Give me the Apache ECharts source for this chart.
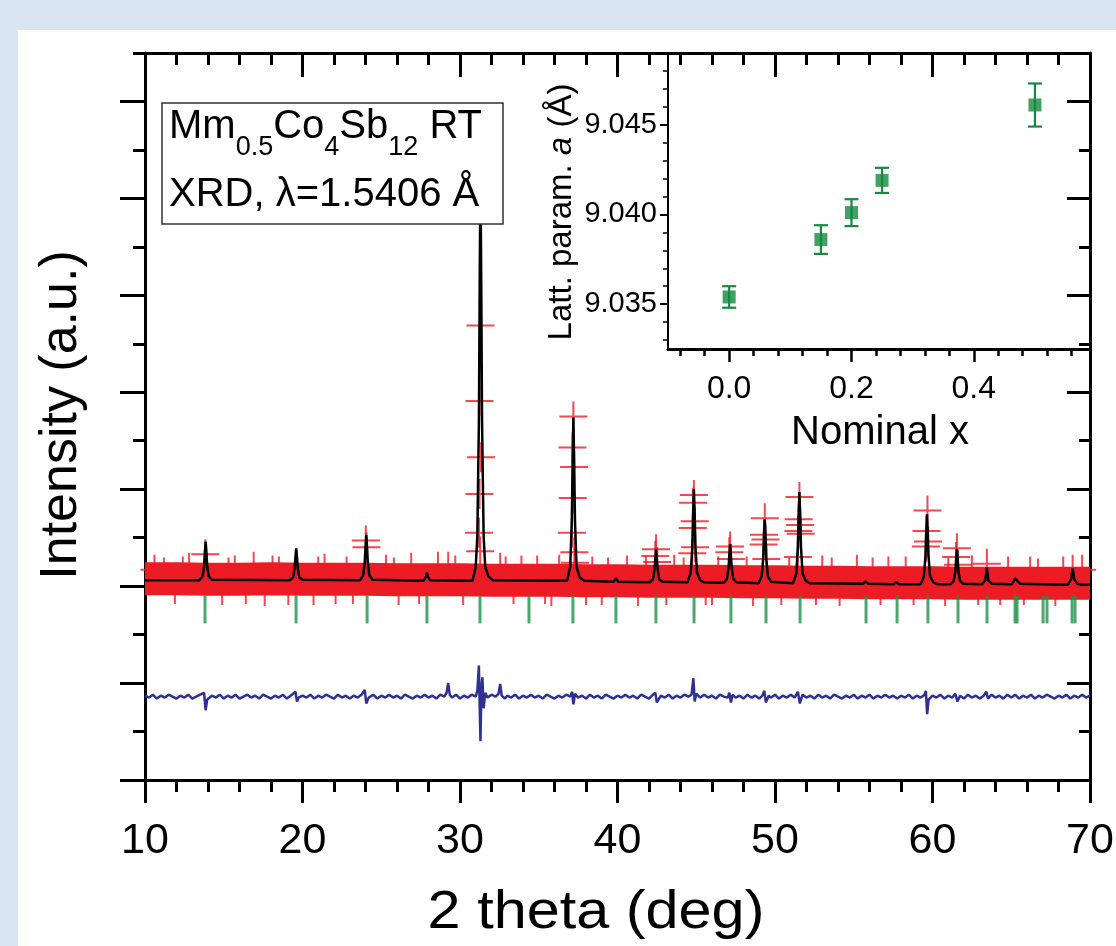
<!DOCTYPE html>
<html>
<head>
<meta charset="utf-8">
<title>Mm0.5Co4Sb12 XRD</title>
<script src="https://cdn.jsdelivr.net/npm/echarts@6/dist/echarts.min.js"></script>
<style>
  html, body { margin: 0; padding: 0; background: #d9e5f0; }
  #chart { width: 1116px; height: 946px; }
</style>
</head>
<body>
<div id="chart"></div>
<script>
// ---- XRD pattern (2 theta in deg, intensity in arbitrary units) ----
const calcCurve = [
  [10, 2.06],
  [13.45, 2.06], [13.65, 2.10], [13.75, 2.20], [13.8, 2.35], [13.85, 2.46], [13.9, 2.35], [13.95, 2.20], [14.05, 2.10], [14.25, 2.065],
  [19.2, 2.06], [19.4, 2.09], [19.5, 2.18], [19.55, 2.30], [19.6, 2.39], [19.65, 2.30], [19.7, 2.18], [19.8, 2.09], [20.0, 2.065],
  [23.65, 2.06], [23.85, 2.11], [23.95, 2.24], [24.0, 2.40], [24.05, 2.53], [24.1, 2.40], [24.15, 2.24], [24.25, 2.11], [24.45, 2.065],
  [27.7, 2.055], [27.85, 2.10], [27.9, 2.14], [27.95, 2.10], [28.1, 2.06],
  [30.8, 2.055], [31.0, 2.20], [31.1, 2.52], [31.2, 3.70], [31.25, 5.1], [31.3, 6.3], [31.35, 5.1], [31.4, 3.70], [31.5, 2.52], [31.6, 2.20], [31.8, 2.10], [32.1, 2.06],
  [36.8, 2.055], [37.0, 2.20], [37.1, 2.68], [37.15, 3.28], [37.2, 3.74], [37.25, 3.28], [37.3, 2.68], [37.4, 2.20], [37.6, 2.09], [37.9, 2.055],
  [39.75, 2.045], [39.9, 2.08], [40.05, 2.045],
  [42.05, 2.04], [42.25, 2.07], [42.35, 2.17], [42.4, 2.28], [42.45, 2.38], [42.5, 2.28], [42.55, 2.17], [42.65, 2.07], [42.85, 2.045],
  [44.45, 2.04], [44.65, 2.14], [44.75, 2.40], [44.8, 2.75], [44.85, 3.0], [44.9, 2.75], [44.95, 2.40], [45.05, 2.14], [45.25, 2.06], [45.5, 2.04],
  [46.75, 2.035], [46.95, 2.075], [47.05, 2.19], [47.1, 2.32], [47.15, 2.43], [47.2, 2.32], [47.25, 2.19], [47.35, 2.075], [47.55, 2.04],
  [48.95, 2.03], [49.15, 2.10], [49.25, 2.28], [49.3, 2.51], [49.35, 2.69], [49.4, 2.51], [49.45, 2.28], [49.55, 2.10], [49.75, 2.045],
  [51.15, 2.03], [51.35, 2.13], [51.45, 2.40], [51.5, 2.73], [51.55, 2.97], [51.6, 2.73], [51.65, 2.40], [51.75, 2.13], [51.95, 2.055], [52.2, 2.03],
  [55.6, 2.025], [55.75, 2.05], [55.9, 2.025],
  [57.55, 2.02], [57.7, 2.045], [57.85, 2.02],
  [59.25, 2.02], [59.45, 2.10], [59.55, 2.30], [59.6, 2.55], [59.65, 2.74], [59.7, 2.55], [59.75, 2.30], [59.85, 2.10], [60.05, 2.04], [60.3, 2.02],
  [61.15, 2.02], [61.35, 2.055], [61.45, 2.15], [61.5, 2.28], [61.55, 2.38], [61.6, 2.28], [61.65, 2.15], [61.75, 2.055], [61.95, 2.025],
  [63.15, 2.02], [63.35, 2.06], [63.4, 2.12], [63.45, 2.19], [63.5, 2.12], [63.55, 2.06], [63.75, 2.025],
  [65.05, 2.02], [65.25, 2.08], [65.3, 2.10], [65.35, 2.08], [65.55, 2.025],
  [68.6, 2.015], [68.8, 2.07], [68.85, 2.13], [68.9, 2.18], [68.95, 2.13], [69.0, 2.07], [69.2, 2.025], [69.4, 2.015],
  [70, 2.015]
];

// observed background level (dense measured points merge into a band)
const obsBackground = [
  [10, 2.075], [12, 2.075], [14, 2.07], [16, 2.07], [18, 2.075], [20, 2.07], [22, 2.07], [24, 2.07],
  [26, 2.065], [28, 2.065], [30, 2.065], [32, 2.06], [34, 2.06], [36, 2.06], [38, 2.055], [40, 2.055],
  [42, 2.05], [44, 2.05], [46, 2.05], [48, 2.045], [50, 2.045], [52, 2.04], [54, 2.04], [56, 2.035],
  [58, 2.035], [60, 2.035], [62, 2.03], [64, 2.03], [66, 2.03], [68, 2.03], [70, 2.03]
];

// observed points on the reflections
const obsPeaks = [
  [13.83, 2.33], [19.6, 2.2], [24.02, 2.47], [24.06, 2.40], [29.25, 2.2], [32.55, 2.19],
  [31.3, 4.69], [31.24, 3.91], [31.34, 3.33], [31.24, 2.95], [31.21, 2.55], [31.28, 2.36],
  [37.2, 3.75], [37.14, 3.43], [37.24, 3.23], [37.16, 2.91], [37.1, 2.55], [37.26, 2.35], [37.3, 2.24],
  [42.45, 2.38], [42.4, 2.31], [42.52, 2.25],
  [44.85, 2.94], [44.8, 2.86], [44.9, 2.67], [44.78, 2.60], [44.93, 2.40], [44.75, 2.34],
  [47.15, 2.41], [47.1, 2.35], [47.2, 2.28],
  [49.35, 2.70], [49.3, 2.53], [49.4, 2.48], [49.28, 2.43], [49.45, 2.28],
  [51.55, 2.92], [51.5, 2.69], [51.6, 2.63], [51.48, 2.57], [51.63, 2.54], [51.45, 2.30],
  [59.68, 2.78], [59.62, 2.57], [59.72, 2.46], [59.58, 2.41],
  [61.55, 2.39], [61.5, 2.30], [61.62, 2.22],
  [63.45, 2.23], [68.9, 2.17]
];

// scattered observed points off the background level
const obsScatter = [
  [10.6, 2.17], [11.2, 2.14], [11.9, 1.97], [12.4, 2.15], [12.8, 2.19], [14.9, 1.96], [15.3, 2.14],
  [15.7, 2.16], [16.4, 1.97], [16.9, 2.2], [17.6, 1.95], [18.1, 2.16], [18.5, 2.15], [19.1, 1.96],
  [20.7, 1.96], [21.0, 2.15], [21.4, 2.18], [22.1, 1.97], [22.8, 2.15], [23.2, 1.97], [25.3, 2.17],
  [25.8, 2.14], [26.1, 1.96], [26.9, 2.19], [27.4, 1.97], [28.6, 2.2], [29.7, 2.16], [30.2, 1.96],
  [32.9, 2.15], [33.4, 1.97], [33.9, 2.16], [34.9, 2.16], [35.4, 1.97], [35.8, 1.95], [36.3, 2.17],
  [38.0, 1.96], [38.4, 2.15], [39.0, 1.96], [39.4, 2.14], [40.6, 2.16], [41.3, 1.95], [41.8, 2.15],
  [43.1, 1.96], [43.6, 2.17], [44.2, 2.14], [45.6, 1.96], [46.0, 1.96], [46.4, 2.15], [48.2, 2.15],
  [48.6, 1.95], [50.4, 1.96], [50.9, 2.14], [52.6, 1.96], [53.0, 2.16], [53.6, 2.14], [54.1, 1.95],
  [55.2, 2.17], [56.2, 2.14], [56.7, 1.96], [57.2, 2.15], [58.3, 2.15], [58.8, 1.96], [60.8, 1.95],
  [61.0, 2.14], [62.5, 2.16], [62.9, 1.96], [64.3, 1.96], [64.8, 2.15], [65.8, 1.96], [66.2, 2.15],
  [66.7, 2.13], [67.8, 1.95], [68.3, 2.15], [69.5, 2.17]
];

// observed minus calculated (offset)
const diffCurve = [
  [10, 0.87], [10.25, 0.85], [10.5, 0.88], [10.75, 0.84], [11, 0.87], [11.25, 0.85], [11.5, 0.88], [11.75, 0.86],
  [12, 0.84], [12.25, 0.87], [12.5, 0.85], [12.75, 0.88], [13, 0.84], [13.25, 0.86], [13.5, 0.88], [13.75, 0.90],
  [13.85, 0.72], [13.95, 0.83], [14.25, 0.87], [14.5, 0.85], [14.75, 0.88], [15, 0.84], [15.25, 0.87], [15.5, 0.85],
  [15.75, 0.88], [16, 0.84], [16.25, 0.86], [16.5, 0.88], [16.75, 0.85], [17, 0.87], [17.25, 0.84], [17.5, 0.88],
  [17.75, 0.86], [18, 0.84], [18.25, 0.87], [18.5, 0.85], [18.75, 0.88], [19, 0.84], [19.25, 0.87], [19.55, 0.91],
  [19.65, 0.81], [19.75, 0.85], [20, 0.87], [20.25, 0.85], [20.5, 0.88], [20.75, 0.84], [21, 0.87], [21.25, 0.85],
  [21.5, 0.88], [21.75, 0.86], [22, 0.84], [22.25, 0.88], [22.5, 0.85], [22.75, 0.87], [23, 0.84], [23.25, 0.87],
  [23.5, 0.85], [23.75, 0.88], [23.95, 0.93], [24.05, 0.79], [24.2, 0.85], [24.5, 0.88], [24.75, 0.84], [25, 0.87],
  [25.25, 0.85], [25.5, 0.88], [25.75, 0.85], [26, 0.87], [26.25, 0.84], [26.5, 0.88], [26.75, 0.86], [27, 0.84],
  [27.25, 0.87], [27.5, 0.85], [27.75, 0.88], [28, 0.85], [28.25, 0.87], [28.5, 0.84], [28.75, 0.88], [29, 0.86],
  [29.15, 0.90], [29.25, 1.00], [29.35, 0.88], [29.5, 0.85], [29.75, 0.88], [30, 0.84], [30.25, 0.87], [30.5, 0.85],
  [30.75, 0.88], [31, 0.86], [31.1, 0.92], [31.2, 1.18], [31.25, 0.75], [31.3, 0.40], [31.36, 0.95], [31.42, 1.06],
  [31.5, 0.74], [31.6, 0.90], [31.75, 0.85], [32, 0.88], [32.25, 0.86], [32.45, 0.89], [32.55, 0.99], [32.65, 0.87],
  [32.85, 0.84], [33, 0.87], [33.25, 0.85], [33.5, 0.88], [33.75, 0.84], [34, 0.87], [34.25, 0.85], [34.5, 0.88],
  [34.75, 0.85], [35, 0.87], [35.25, 0.84], [35.5, 0.88], [35.75, 0.86], [36, 0.84], [36.25, 0.87], [36.5, 0.85],
  [36.75, 0.88], [37, 0.86], [37.12, 0.91], [37.2, 0.78], [37.3, 0.89], [37.5, 0.85], [37.75, 0.87], [38, 0.84],
  [38.25, 0.88], [38.5, 0.85], [38.75, 0.87], [39, 0.84], [39.25, 0.88], [39.5, 0.86], [39.75, 0.84], [40, 0.87],
  [40.25, 0.85], [40.5, 0.88], [40.75, 0.85], [41, 0.87], [41.25, 0.84], [41.5, 0.88], [41.75, 0.86], [42, 0.84],
  [42.25, 0.88], [42.4, 0.90], [42.5, 0.80], [42.75, 0.87], [43, 0.85], [43.25, 0.88], [43.5, 0.84], [43.75, 0.87],
  [44, 0.85], [44.25, 0.88], [44.5, 0.86], [44.7, 0.88], [44.82, 1.05], [44.9, 0.81], [45, 0.89], [45.25, 0.85],
  [45.5, 0.88], [45.75, 0.85], [46, 0.87], [46.25, 0.84], [46.5, 0.88], [46.75, 0.86], [47, 0.85], [47.1, 0.90],
  [47.2, 0.80], [47.3, 0.88], [47.5, 0.85], [47.75, 0.87], [48, 0.84], [48.25, 0.88], [48.5, 0.85], [48.75, 0.87],
  [49, 0.84], [49.2, 0.87], [49.32, 0.92], [49.42, 0.80], [49.6, 0.87], [49.75, 0.85], [50, 0.88], [50.25, 0.84],
  [50.5, 0.87], [50.75, 0.85], [51, 0.88], [51.25, 0.85], [51.45, 0.91], [51.58, 0.79], [51.75, 0.88], [52, 0.85],
  [52.25, 0.87], [52.5, 0.84], [52.75, 0.88], [53, 0.85], [53.25, 0.87], [53.5, 0.84], [53.75, 0.88], [54, 0.86],
  [54.25, 0.84], [54.5, 0.87], [54.75, 0.85], [55, 0.88], [55.25, 0.84], [55.5, 0.87], [55.75, 0.85], [56, 0.88],
  [56.25, 0.84], [56.5, 0.87], [56.75, 0.85], [57, 0.88], [57.25, 0.85], [57.5, 0.87], [57.75, 0.84], [58, 0.87],
  [58.25, 0.85], [58.5, 0.88], [58.75, 0.84], [59, 0.87], [59.25, 0.85], [59.5, 0.88], [59.58, 0.92], [59.66, 0.68],
  [59.75, 0.83], [60, 0.87], [60.25, 0.85], [60.5, 0.88], [60.75, 0.84], [61, 0.87], [61.25, 0.85], [61.45, 0.89],
  [61.58, 0.81], [61.75, 0.87], [62, 0.84], [62.25, 0.88], [62.5, 0.85], [62.75, 0.87], [63, 0.84], [63.25, 0.87],
  [63.42, 0.91], [63.52, 0.84], [63.75, 0.88], [64, 0.85], [64.25, 0.87], [64.5, 0.84], [64.75, 0.88], [65, 0.85],
  [65.25, 0.88], [65.5, 0.84], [65.75, 0.87], [66, 0.85], [66.25, 0.88], [66.5, 0.84], [66.75, 0.87], [67, 0.85],
  [67.25, 0.88], [67.5, 0.86], [67.75, 0.84], [68, 0.87], [68.25, 0.85], [68.5, 0.88], [68.75, 0.84], [69, 0.87],
  [69.25, 0.85], [69.5, 0.88], [69.75, 0.85], [70, 0.87]
];

// Bragg reflection positions (2 theta, deg)
const braggPositions = [13.81, 19.59, 24.1, 27.9, 31.27, 34.38, 37.17, 39.9, 42.44, 44.86, 47.2,
  49.43, 51.59, 55.78, 57.75, 59.71, 61.62, 63.46, 65.24, 65.37, 67.02, 67.27, 68.86, 69.05];

// ---- inset: lattice parameter vs nominal filling ----
const nominalX = [0, 0.15, 0.2, 0.25, 0.5];
const latticeA = [9.0354, 9.0386, 9.0401, 9.0419, 9.0461];
const latticeErr = [0.0006, 0.0008, 0.00075, 0.0007, 0.0012];

// tick values
const mainXTicks = [10, 20, 30, 40, 50, 60, 70];
const mainYMajor = [0, 1, 2, 3, 4, 5, 6, 7];
const mainYMinor = [0.5, 1.5, 2.5, 3.5, 4.5, 5.5, 6.5, 7.5];
const insetXMajor = [0, 0.2, 0.4];
const insetXMinor = [-0.08, -0.04, 0.04, 0.08, 0.12, 0.16, 0.24, 0.28, 0.32, 0.36, 0.44, 0.48, 0.52, 0.56];
const insetYMajor = [9.035, 9.040, 9.045];
const insetYMinor = [9.033, 9.034, 9.036, 9.037, 9.038, 9.039, 9.041, 9.042, 9.043, 9.044, 9.046, 9.047, 9.048];

// ---- styling ----
const FONT = '"Liberation Sans", Arial, Helvetica, sans-serif';
const RED = '#ec1c24';
const GREEN = '#1e9248';
const DARK_GREEN = '#138a3f';
const NAVY = '#2e3192';
const BRAGG_ROW = 1.76;
const PLUS = 'path://M13,0h2v30h-2z M0,14h28v2h-28z';

function axisBase(extra) {
  return Object.assign({
    type: 'value',
    splitLine: { show: false },
    minorSplitLine: { show: false },
    axisLine: { show: true, onZero: false, lineStyle: { color: '#000', width: 3 } },
    axisLabel: { show: false },
    silent: true
  }, extra);
}
const hiddenLine = { show: false, onZero: false };
function tickStyle(values, length, inside, width) {
  return { show: true, customValues: values, length: length, inside: inside,
           lineStyle: { color: '#000', width: width || 3 } };
}

// measure text so subscripts can be placed after their base text
const mctx = document.createElement('canvas').getContext('2d');
function textWidth(t, size) { mctx.font = size + 'px ' + FONT; return mctx.measureText(t).width; }

const legendGraphics = [];
(function () {
  const pieces = [['Mm', 40, false], ['0.5', 27, true], ['Co', 40, false], ['4', 27, true],
                  ['Sb', 40, false], ['12', 27, true], [' RT', 40, false]];
  let cx = 169;
  pieces.forEach(p => {
    legendGraphics.push({
      type: 'text', x: cx, y: p[2] ? 148 : 127, z: 51, silent: true,
      style: { text: p[0], fontSize: p[1], fontFamily: FONT, fill: '#000', align: 'left', verticalAlign: 'middle' }
    });
    cx += textWidth(p[0], p[1]);
  });
  legendGraphics.push({
    type: 'text', x: 169, y: 195, z: 51, silent: true,
    style: { text: 'XRD, \u03bb=1.5406 \u00c5', fontSize: 40, fontFamily: FONT, fill: '#000', align: 'left', verticalAlign: 'middle' }
  });
})();

const chart = echarts.init(document.getElementById('chart'), null, { renderer: 'canvas' });

chart.setOption({
  backgroundColor: '#d9e5f0',
  animation: false,
  grid: [
    { left: 145, top: 53, width: 945, height: 727, outerBoundsMode: 'none', containLabel: false },
    { left: 668, top: 53, width: 422, height: 296, outerBoundsMode: 'none', containLabel: false }
  ],
  xAxis: [
    axisBase({ gridIndex: 0, position: 'bottom', min: 10, max: 70, interval: 10,
      axisTick: { show: true, length: 23, inside: false, lineStyle: { color: '#000', width: 3 } },
      minorTick: { show: true, splitNumber: 5, length: 12, lineStyle: { color: '#000', width: 3 } },
      axisLabel: { show: true, customValues: mainXTicks, fontSize: 43, fontFamily: FONT, color: '#000',
                   margin: 61, verticalAlign: 'middle' } }),
    axisBase({ gridIndex: 0, position: 'top', min: 10, max: 70, interval: 10,
      axisTick: { show: true, length: 24, inside: true, lineStyle: { color: '#000', width: 3 } },
      minorTick: { show: true, splitNumber: 5, length: 12, lineStyle: { color: '#000', width: 3 } } }),
    axisBase({ gridIndex: 1, position: 'bottom', min: -0.1, max: 0.59,
      axisTick: tickStyle(insetXMajor, 13, false, 2.5),
      axisLabel: { show: true, customValues: insetXMajor, fontSize: 32, fontFamily: FONT, color: '#000',
                   margin: 40, verticalAlign: 'middle', formatter: v => v.toFixed(1) } }),
    axisBase({ gridIndex: 1, position: 'bottom', min: -0.1, max: 0.59,
      axisLine: hiddenLine, axisTick: tickStyle(insetXMinor, 7, false, 2.5) })
  ],
  yAxis: [
    axisBase({ gridIndex: 0, position: 'left', min: 0, max: 7.5, axisTick: tickStyle(mainYMajor, 25, false) }),
    axisBase({ gridIndex: 0, position: 'left', min: 0, max: 7.5, axisLine: hiddenLine,
      axisTick: tickStyle(mainYMinor, 12, false) }),
    axisBase({ gridIndex: 0, position: 'right', min: 0, max: 7.5, axisTick: tickStyle(mainYMajor, 23, true) }),
    axisBase({ gridIndex: 0, position: 'right', min: 0, max: 7.5, axisLine: hiddenLine,
      axisTick: tickStyle(mainYMinor, 11, true) }),
    axisBase({ gridIndex: 1, position: 'left', min: 9.0325, max: 9.049,
      axisLine: { show: true, onZero: false, lineStyle: { color: '#000', width: 2 } },
      axisTick: tickStyle(insetYMajor, 8, false, 2),
      axisLabel: { show: true, customValues: insetYMajor, fontSize: 29, fontFamily: FONT, color: '#000',
                   margin: 11, formatter: v => v.toFixed(3) } }),
    axisBase({ gridIndex: 1, position: 'left', min: 9.0325, max: 9.049, axisLine: hiddenLine,
      axisTick: tickStyle(insetYMinor, 5, false, 1.5) })
  ],
  graphic: [
    { type: 'rect', z: -100, silent: true, shape: { x: 18, y: 30, width: 1098, height: 916 }, style: { fill: '#ffffff' } },
    { type: 'rect', z: 50, silent: true, shape: { x: 162, y: 103, width: 341, height: 121 },
      style: { fill: '#ffffff', stroke: '#333333', lineWidth: 1.5 } },
    ...legendGraphics,
    { type: 'text', x: 62, y: 415, rotation: Math.PI / 2, silent: true,
      style: { text: 'Intensity (a.u.)', fontSize: 52, fontFamily: FONT, fill: '#000', align: 'center', verticalAlign: 'middle' } },
    { type: 'text', x: 596, y: 913, scaleX: 1.1, silent: true,
      style: { text: '2 theta (deg)', fontSize: 54, fontFamily: FONT, fill: '#000', align: 'center', verticalAlign: 'middle' } },
    { type: 'text', x: 880, y: 433, silent: true,
      style: { text: 'Nominal x', fontSize: 40, fontFamily: FONT, fill: '#000', align: 'center', verticalAlign: 'middle' } },
    { type: 'text', x: 562, y: 212, rotation: Math.PI / 2, silent: true,
      style: { text: '{r|Latt. param. }{i|a}{r| (\u00c5)}', align: 'center', verticalAlign: 'middle',
        rich: { r: { fontSize: 33, fontFamily: FONT, fill: '#000' },
                i: { fontSize: 33, fontFamily: FONT, fontStyle: 'italic', fill: '#000' } } } }
  ],
  series: [
    { name: 'Observed background', type: 'line', xAxisIndex: 0, yAxisIndex: 0, data: obsBackground,
      symbol: 'none', silent: true, z: 1, lineStyle: { color: RED, width: 33, cap: 'butt' } },
    { name: 'Observed', type: 'scatter', xAxisIndex: 0, yAxisIndex: 0, data: obsPeaks.concat(obsScatter),
      symbol: PLUS, symbolSize: [28, 30], silent: true, z: 2, itemStyle: { color: RED } },
    { name: 'Calculated', type: 'line', xAxisIndex: 0, yAxisIndex: 0, data: calcCurve,
      symbol: 'none', silent: true, z: 3, lineStyle: { color: '#000', width: 2.5 } },
    { name: 'Difference', type: 'line', xAxisIndex: 0, yAxisIndex: 0, data: diffCurve,
      symbol: 'none', silent: true, z: 3, lineStyle: { color: NAVY, width: 2.5 } },
    { name: 'Bragg positions', type: 'scatter', xAxisIndex: 0, yAxisIndex: 0,
      data: braggPositions.map(p => [p, BRAGG_ROW]),
      symbol: 'rect', symbolSize: [3, 28], silent: true, z: 3, itemStyle: { color: GREEN } },
    { name: 'Lattice parameter error', type: 'custom', xAxisIndex: 2, yAxisIndex: 4,
      data: nominalX.map((x, i) => [x, latticeA[i], latticeErr[i]]),
      encode: { x: 0, y: 1 }, silent: true, z: 4,
      renderItem: function (params, api) {
        const x = api.value(0), y = api.value(1), e = api.value(2);
        const top = api.coord([x, y + e]);
        const bot = api.coord([x, y - e]);
        const hw = 7;
        const st = { stroke: DARK_GREEN, lineWidth: 2.2 };
        return { type: 'group', children: [
          { type: 'line', shape: { x1: top[0], y1: top[1], x2: bot[0], y2: bot[1] }, style: st },
          { type: 'line', shape: { x1: top[0] - hw, y1: top[1], x2: top[0] + hw, y2: top[1] }, style: st },
          { type: 'line', shape: { x1: bot[0] - hw, y1: bot[1], x2: bot[0] + hw, y2: bot[1] }, style: st }
        ] };
      } },
    { name: 'Lattice parameter', type: 'scatter', xAxisIndex: 2, yAxisIndex: 4,
      data: nominalX.map((x, i) => [x, latticeA[i]]),
      symbol: 'rect', symbolSize: 13, silent: true, z: 5, itemStyle: { color: DARK_GREEN } }
  ]
});
</script>
</body>
</html>
